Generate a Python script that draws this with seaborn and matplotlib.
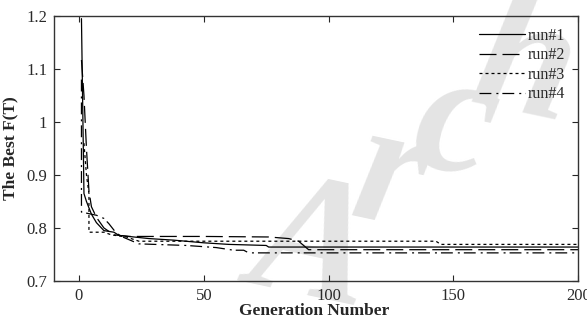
import matplotlib
matplotlib.use("Agg")
import matplotlib.pyplot as plt
import seaborn as sns
import pandas as pd

# ---- data ----
run1_gen = [1, 2, 3, 4, 5, 7, 10, 14, 16, 22, 28, 38, 50, 60, 75, 76, 200]
run1_val = [1.195, 0.865, 0.85, 0.838, 0.826, 0.81, 0.795, 0.792, 0.786, 0.783, 0.780, 0.777, 0.772, 0.769, 0.767, 0.764, 0.764]

run2_gen = [1, 2, 3, 4, 5, 7, 10, 14, 20, 50, 76, 84, 88, 92, 200]
run2_val = [1.117, 1.05, 0.95, 0.87, 0.84, 0.82, 0.80, 0.787, 0.784, 0.784, 0.783, 0.78, 0.775, 0.759, 0.759]

run3_gen = [2, 3, 4, 4, 10, 13, 19, 24, 143, 145, 200]
run3_val = [0.96, 0.90, 0.865, 0.792, 0.792, 0.787, 0.783, 0.775, 0.775, 0.769, 0.769]

run4_gen = [1, 1, 5, 7, 10, 12, 15, 18, 24, 43, 55, 62, 66, 68, 200]
run4_val = [1.08, 0.83, 0.826, 0.824, 0.818, 0.808, 0.79, 0.782, 0.770, 0.767, 0.763, 0.758, 0.758, 0.753, 0.753]

labels = ["run#1", "run#2", "run#3", "run#4"]
x_ticks = [0, 50, 100, 150, 200]
y_ticks = [0.7, 0.8, 0.9, 1.0, 1.1, 1.2]
y_tick_labels = ["0.7", "0.8", "0.9", "1", "1.1", "1.2"]
watermark_letters = ["A", "r", "c", "h"]

# ---- style ----
sns.set_style("ticks", {"xtick.direction": "in", "ytick.direction": "in"})
plt.rcParams["font.family"] = ["Liberation Serif", "DejaVu Serif"]
plt.rcParams["axes.linewidth"] = 1.0

fig = plt.figure(figsize=(5.87, 3.20), dpi=100)
ax = fig.add_axes([0.092, 0.122, 0.893, 0.828])
ax.set_facecolor("none")

# watermark, one letter at a time along a rising diagonal (figure pixels)
wm_pos = [(312, 250), (390, 180), (455, 128), (525, 70)]
for ch, (px, py) in zip(watermark_letters, wm_pos):
    ax.text(px / 587, 1 - py / 320, ch, transform=fig.transFigure, rotation=-12,
            fontsize=128, fontweight="bold", fontstyle="italic", color="#e4e4e4",
            ha="center", va="center", zorder=0, clip_on=False)

styles = ["-", (0, (13.6, 4.8)), (0, (2.4, 2.4)), (0, (9.5, 4, 1.6, 3.2))]
runs = [(run1_gen, run1_val), (run2_gen, run2_val), (run3_gen, run3_val), (run4_gen, run4_val)]
for (g, v), lab, ls in zip(runs, labels, styles):
    df = pd.DataFrame({"gen": g, "val": v})
    sns.lineplot(data=df, x="gen", y="val", ax=ax, color="black", linewidth=0.9,
                 linestyle=ls, estimator=None, sort=False, label=lab, zorder=3)

ax.set_xlim(-10, 200)
ax.set_ylim(0.7, 1.2)
ax.set_xticks(x_ticks)
ax.set_yticks(y_ticks)
ax.set_yticklabels(y_tick_labels)
ax.tick_params(which="both", direction="in", top=True, right=True, length=4,
               labelsize=12, labelcolor="#2a2a2a", pad=5)
for s in ax.spines.values():
    s.set_visible(True)
    s.set_color("#333333")
    s.set_zorder(4)

ax.set_xlabel("Generation Number", fontsize=12.5, fontweight="bold")
ax.set_ylabel("The Best F(T)", fontsize=12.5, fontweight="bold")
ax.xaxis.set_label_coords(0.496, -0.085)
ax.yaxis.set_label_coords(-0.068, 0.5)

leg = ax.legend(loc="upper right", bbox_to_anchor=(1.003, 1.01), frameon=False,
                fontsize=11.5, handlelength=2.9, handletextpad=0.2, labelspacing=0.22)
for line in leg.get_lines():
    line.set_linewidth(0.9)

fig.savefig("out.png", dpi=100)
